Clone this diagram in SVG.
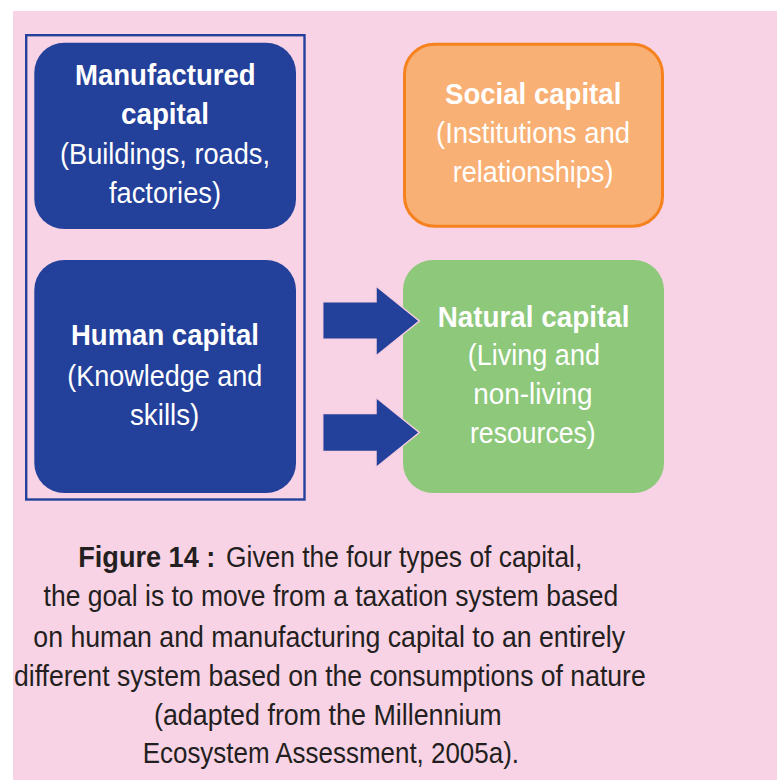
<svg xmlns="http://www.w3.org/2000/svg" width="777" height="780" viewBox="0 0 777 780">
<style>
.b{font-family:"Liberation Sans",Arial,sans-serif;font-weight:bold;font-size:29px;fill:#ffffff}
.r{font-family:"Liberation Sans",Arial,sans-serif;font-size:29px;fill:#ffffff}
.cb{font-family:"Liberation Sans",Arial,sans-serif;font-weight:bold;font-size:29px;fill:#231f20}
.cr{font-family:"Liberation Sans",Arial,sans-serif;font-size:29px;fill:#231f20}
.blue{fill:#23409a}
.arrow{fill:#23409a;stroke:#f7cde0;stroke-width:1.5}
</style>
<rect x="0" y="0" width="777" height="780" fill="#ffffff"/>
<rect x="13" y="11" width="764" height="769" fill="#f8d3e5"/>
<rect id="frame" x="26.2" y="35.2" width="278.3" height="464.3" fill="none" stroke="#23409a" stroke-width="2.4"/>
<g id="manufactured">
<rect x="34.3" y="42.7" width="261.7" height="186.3" rx="30" class="blue"/>
<text class="b" x="75" y="85" textLength="180.7" lengthAdjust="spacingAndGlyphs">Manufactured</text>
<text class="b" x="121" y="124" textLength="88" lengthAdjust="spacingAndGlyphs">capital</text>
<text class="r" x="60" y="164" textLength="210" lengthAdjust="spacingAndGlyphs">(Buildings, roads,</text>
<text class="r" x="109" y="203" textLength="112" lengthAdjust="spacingAndGlyphs">factories)</text>
</g>
<g id="human">
<rect x="34.3" y="260" width="261.7" height="233" rx="30" class="blue"/>
<text class="b" x="71" y="345" textLength="188" lengthAdjust="spacingAndGlyphs">Human capital</text>
<text class="r" x="67.3" y="386" textLength="195" lengthAdjust="spacingAndGlyphs">(Knowledge and</text>
<text class="r" x="130" y="425" textLength="69.3" lengthAdjust="spacingAndGlyphs">skills)</text>
</g>
<g id="social">
<rect x="404.5" y="44.2" width="258" height="182" rx="30" fill="#f9b074" stroke="#f5821f" stroke-width="3"/>
<text class="b" x="445" y="104" textLength="176.3" lengthAdjust="spacingAndGlyphs">Social capital</text>
<text class="r" x="436" y="143.3" textLength="194" lengthAdjust="spacingAndGlyphs">(Institutions and</text>
<text class="r" x="452.7" y="181.7" textLength="160.7" lengthAdjust="spacingAndGlyphs">relationships)</text>
</g>
<g id="natural">
<rect x="403" y="260" width="261" height="233" rx="30" fill="#8dc87b"/>
<text class="b" x="437.7" y="326.7" textLength="191.7" lengthAdjust="spacingAndGlyphs">Natural capital</text>
<text class="r" x="467.7" y="365" textLength="132.3" lengthAdjust="spacingAndGlyphs">(Living and</text>
<text class="r" x="473.3" y="404.3" textLength="119.3" lengthAdjust="spacingAndGlyphs">non-living</text>
<text class="r" x="470" y="443.3" textLength="125.7" lengthAdjust="spacingAndGlyphs">resources)</text>
</g>
<g id="connectors">
<polygon class="arrow" points="322.7,301.7 376,301.7 376,286 419.3,321 376,356 376,339.3 322.7,339.3"/>
<polygon class="arrow" points="322.7,413.5 376,413.5 376,397.5 419.3,432.5 376,467.5 376,451.5 322.7,451.5"/>
</g>
<g id="caption">
<text class="cb" x="78.3" y="566.7" textLength="137" lengthAdjust="spacingAndGlyphs">Figure 14 :</text>
<text class="cr" x="226" y="566.7" textLength="356.3" lengthAdjust="spacingAndGlyphs">Given the four types of capital,</text>
<text class="cr" x="43.6" y="605.5" textLength="574.7" lengthAdjust="spacingAndGlyphs">the goal is to move from a taxation system based</text>
<text class="cr" x="33.3" y="647" textLength="591.7" lengthAdjust="spacingAndGlyphs">on human and manufacturing capital to an entirely</text>
<text class="cr" x="14" y="685.7" textLength="631.7" lengthAdjust="spacingAndGlyphs">different system based on the consumptions of nature</text>
<text class="cr" x="154" y="724.5" textLength="347.7" lengthAdjust="spacingAndGlyphs">(adapted from the Millennium</text>
<text class="cr" x="142.7" y="763" textLength="376.3" lengthAdjust="spacingAndGlyphs">Ecosystem Assessment, 2005a).</text>
</g>
</svg>
